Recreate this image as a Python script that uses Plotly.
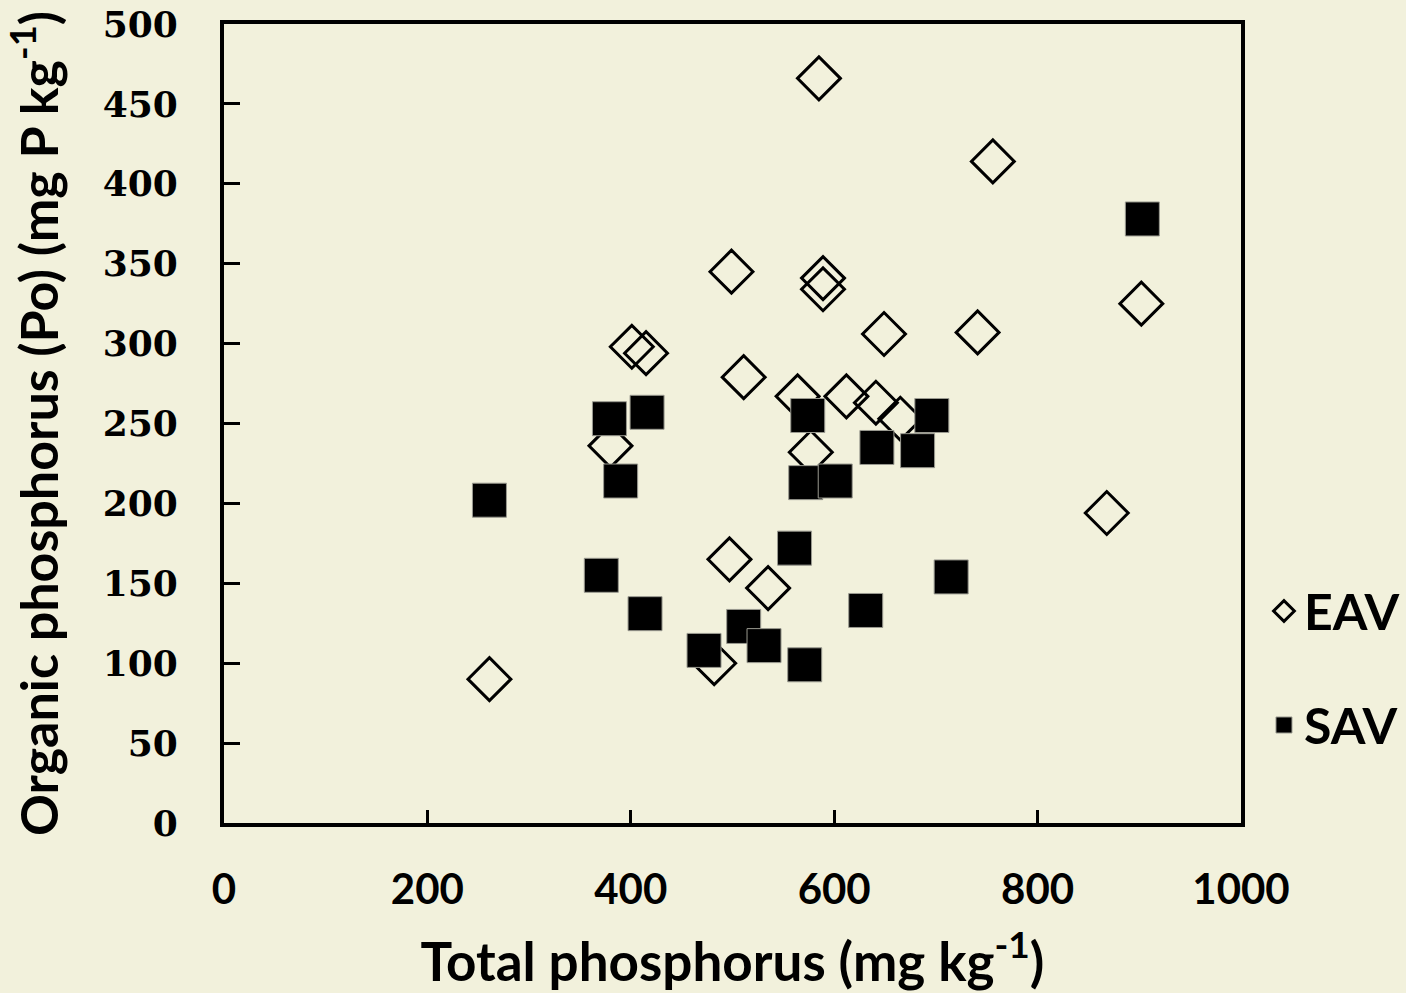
import plotly.graph_objects as go

# EAV (open diamonds)
eav_tp = [585, 756, 902, 499, 589, 589, 401, 415, 511, 649, 741, 564, 612, 641, 665, 577, 380, 868, 497, 535, 482, 261]
eav_po = [466, 414, 325, 345, 341, 334, 298, 294, 279, 306, 307, 267, 267, 263, 253, 232, 236, 194, 165, 147, 100, 90]

# SAV (filled squares)
sav_tp = [903, 379, 416, 574, 696, 642, 682, 390, 572, 601, 261, 561, 371, 715, 414, 631, 511, 531, 472, 571]
sav_po = [378, 253, 257, 255, 255, 235, 233, 214, 213, 214, 202, 172, 155, 154, 131, 133, 123, 111, 108, 99]

x_ticks = [0, 200, 400, 600, 800, 1000]
y_ticks = [0, 50, 100, 150, 200, 250, 300, 350, 400, 450, 500]

BG = "#F2F1DC"
SANS = "Lato, 'Open Sans', sans-serif"
SERIF = "'DejaVu Serif', serif"

fig = go.Figure()
fig.add_trace(go.Scatter(
    x=eav_tp, y=eav_po, mode="markers", name="EAV", legendgroup="EAV",
    marker=dict(symbol="diamond-open", size=33, color="black",
                line=dict(color="black", width=3)),
))
fig.add_trace(go.Scatter(
    x=sav_tp, y=sav_po, mode="markers", name="SAV", legendgroup="SAV",
    marker=dict(symbol="square", size=34, color="black",
                line=dict(color="#9a9a90", width=1)),
))

fig.update_layout(
    template="none",
    width=1406, height=993,
    paper_bgcolor=BG, plot_bgcolor=BG,
    margin=dict(l=224, r=165, t=24, b=170, autoexpand=False),
    font=dict(family=SANS, color="black"),
    showlegend=True,
    legend=dict(
        x=1.0226, xanchor="left", y=0.194, yanchor="middle",
        font=dict(family=SANS, size=50, color="black", weight="bold"),
        bgcolor="rgba(0,0,0,0)", tracegroupgap=46,
        itemsizing="trace", borderwidth=0,
    ),
    xaxis=dict(
        range=[0, 1000], tickvals=x_ticks, ticktext=[str(v) for v in x_ticks],
        showgrid=False, zeroline=False, automargin=False,
        showline=True, linecolor="black", linewidth=4, mirror=True,
        ticks="inside", ticklen=13, tickwidth=3, tickcolor="black",
        ticklabelstandoff=27,
        tickfont=dict(family=SANS, size=42, color="black", weight="bold"),
        title=dict(text="Total phosphorus (mg kg<sup>-1</sup>)",
                   font=dict(family=SANS, size=53, color="black", weight="bold"),
                   standoff=32),
    ),
    yaxis=dict(
        range=[0, 500], tickvals=y_ticks, ticktext=[str(v) for v in y_ticks],
        showgrid=False, zeroline=False, automargin=False,
        showline=True, linecolor="black", linewidth=4, mirror=True,
        ticks="inside", ticklen=16, tickwidth=3, tickcolor="black",
        ticklabelstandoff=35,
        tickfont=dict(family=SERIF, size=36, color="black", weight="bold"),
        title=dict(text="Organic phosphorus (Po) (mg P kg<sup>-1</sup>)",
                   font=dict(family=SANS, size=52, color="black", weight="bold"),
                   standoff=31),
    ),
)

post = ("document.documentElement.style.margin='0';"
        "document.body.style.margin='0';"
        "document.body.style.background='" + BG + "';"
        "document.body.style.overflow='hidden';")

fig.write_html("out.html", post_script=post, config={"displayModeBar": False})
